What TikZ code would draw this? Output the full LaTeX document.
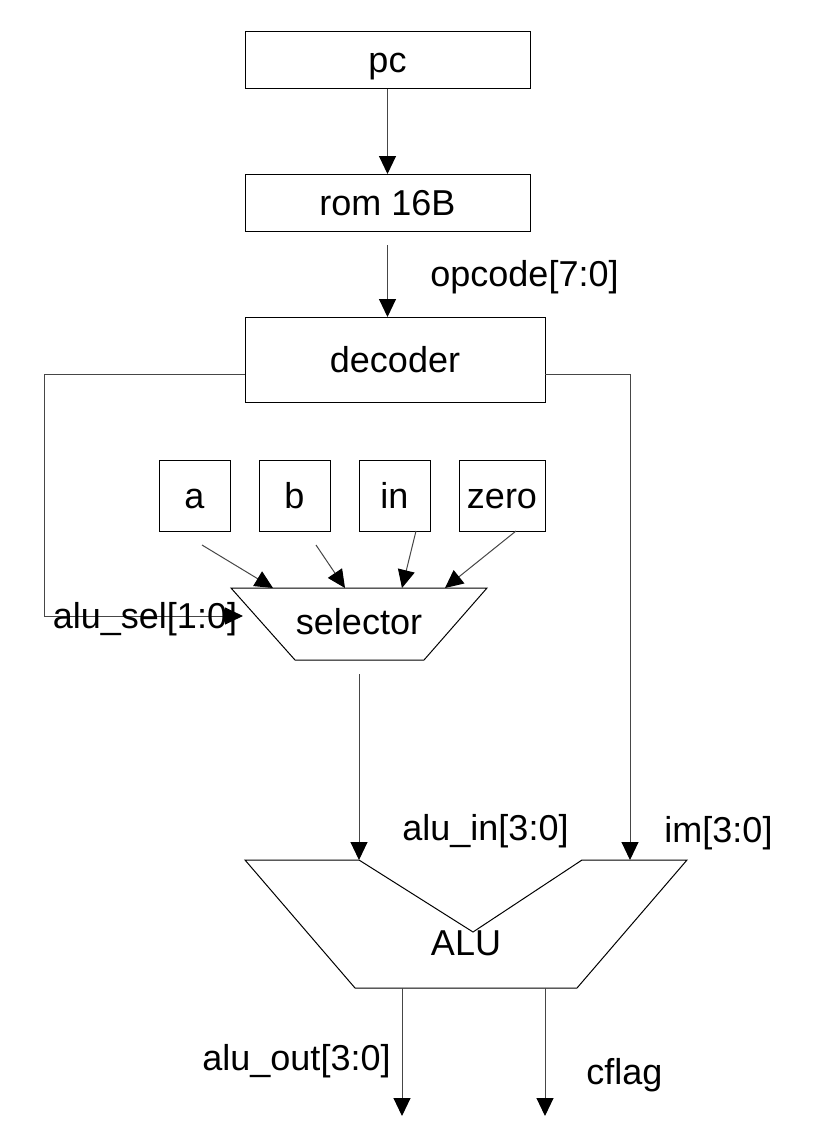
\documentclass[tikz,border=0pt]{standalone}
\usepackage{fontspec}
\setmainfont{Liberation Sans}
\usetikzlibrary{arrows.meta}
\begin{document}
\begin{tikzpicture}[x=1pt,y=-1pt,
  every node/.style={font=\fontsize{36}{40}\selectfont, inner sep=0pt, text height=25.8pt, text depth=0pt},
  blk/.style={draw=black, line width=1pt, rectangle},
  wire/.style={draw={rgb,255:red,70;green,70;blue,70}, line width=1pt},
  arr/.style={wire, -{Triangle[length=18pt,width=17pt,color=black]}},
  shp/.style={draw=black, line width=1pt, line join=miter}]
\useasboundingbox (0,0) rectangle (823,1136);
% boxes
\node[blk, minimum width=285pt, minimum height=57pt] (pc) at (387.5,59.5) {pc};
\node[blk, minimum width=285pt, minimum height=57pt] (rom) at (387.5,202.5) {rom 16B};
\node[blk, minimum width=300pt, minimum height=85pt] (dec) at (395,359.5) {decoder};
\node[blk, minimum width=71pt, minimum height=71pt] (ra) at (194.5,495.5) {a};
\node[blk, minimum width=71pt, minimum height=71pt] (rb) at (294.5,495.5) {b};
\node[blk, minimum width=71pt, minimum height=71pt] (rin) at (394.5,495.5) {in};
\node[blk, minimum width=86pt, minimum height=71pt] (rz) at (502,495.5) {zero};
% selector
\draw[shp] (231,588) -- (487,588) -- (424,660) -- (295,660) -- cycle;
\node (sel) at (359,622) {selector};
% ALU
\draw[shp] (245,860) -- (359,860) -- (473,932) -- (582,860) -- (687,860) -- (577,988) -- (355,988) -- cycle;
\node (alu) at (466,943) {ALU};
% coordinates
\coordinate (romin) at (387.5,174);
\coordinate (decsrc) at (387.5,245);
\coordinate (decin) at (387.5,317);
\coordinate (dl) at (245,374);
\coordinate (dr) at (545,374);
\coordinate (selin) at (243,616);
\coordinate (imin) at (630,860);
\coordinate (a1) at (202,545); \coordinate (a2) at (273,588);
\coordinate (b1) at (316,545); \coordinate (b2) at (345,588);
\coordinate (i1) at (416,531); \coordinate (i2) at (402,588);
\coordinate (z1) at (516,531); \coordinate (z2) at (445,588);
\coordinate (selout) at (359,674);
\coordinate (aluin) at (359,860);
\coordinate (o1) at (402,988); \coordinate (o1e) at (402,1116);
\coordinate (o2) at (545,988); \coordinate (o2e) at (545,1116);
% connectors
\draw[arr] (pc.south) -- (romin);
\draw[arr] (decsrc) -- (decin);
\draw[arr] (dl) -- (44,374) -- (44,616) -- (selin);
\draw[arr] (dr) -- (630,374) -- (imin);
\draw[arr] (a1) -- (a2);
\draw[arr] (b1) -- (b2);
\draw[arr] (i1) -- (i2);
\draw[arr] (z1) -- (z2);
\draw[arr] (selout) -- (aluin);
\draw[arr] (o1) -- (o1e);
\draw[arr] (o2) -- (o2e);
% labels
\node (lop) at (524.5,273.1) {opcode[7:0]};
\node (lsel) at (145,615.1) {alu\_sel[1:0]};
\node (lin) at (485.5,827.1) {alu\_in[3:0]};
\node (lim) at (718.5,829.1) {im[3:0]};
\node (lout) at (296.5,1057.1) {alu\_out[3:0]};
\node (lcf) at (624.5,1071.1) {cflag};
\end{tikzpicture}
\end{document}
